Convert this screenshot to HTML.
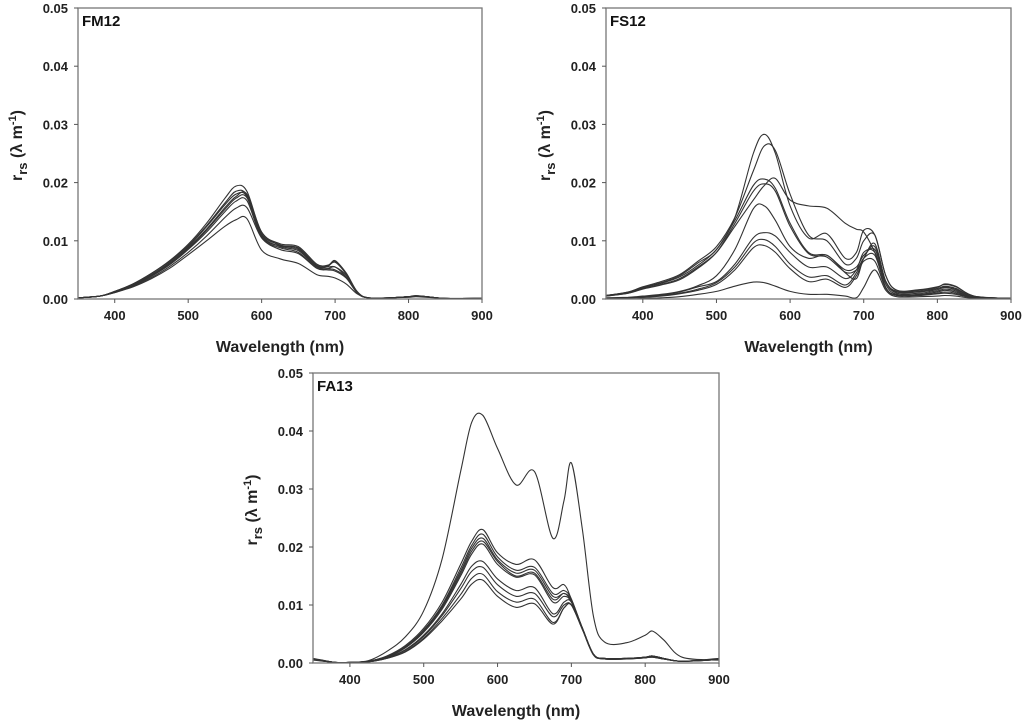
<!DOCTYPE html>
<html><head><meta charset="utf-8"><style>
body{margin:0;background:#fff}
svg{display:block;font-family:"Liberation Sans",Arial,sans-serif}
.tk{font-size:13px;font-weight:bold;fill:#222}
.ttl{font-size:16px;font-weight:bold;fill:#222}
.pl{font-size:15px;font-weight:bold;fill:#111}
</style></head><body>
<svg id="chart" width="1024" height="723" viewBox="0 0 1024 723"></svg>
<script>
const wavelengths=[350,380,400,425,450,475,500,525,550,565,580,600,625,650,675,690,700,715,730,745,775,800,810,825,850,900];
const xTicks=[400,500,600,700,800,900];
const yTicks=[0,0.01,0.02,0.03,0.04,0.05];
const yTickLabels=["0.00","0.01","0.02","0.03","0.04","0.05"];
// values in units of 0.001
const fm12=[
[0.2,0.5,1.3,2.6,4.4,6.6,9.4,13,17.3,19.4,18.5,11.5,9.5,9,6,5.8,6.5,4.5,1.3,0.2,0.2,0.4,0.6,0.4,0.1,0.1],
[0.2,0.5,1.3,2.6,4.4,6.5,9.2,12.6,16.5,18.5,17.8,11.2,9.3,8.7,5.8,5.7,6.3,4.3,1.2,0.2,0.2,0.4,0.5,0.4,0.1,0.1],
[0.2,0.5,1.2,2.4,4.1,6.1,8.8,12,15.7,17.6,18,11.5,9.2,8.5,5.6,5.5,5.5,4.1,1.2,0.2,0.2,0.4,0.5,0.4,0.1,0.1],
[0.2,0.5,1.2,2.4,4,6,8.6,11.8,15.4,17.3,17.4,11,9,8.3,5.5,5.2,5,3.8,1.1,0.2,0.2,0.4,0.5,0.4,0.1,0.1],
[0.2,0.5,1.2,2.3,3.9,5.9,8.5,11.5,15,16.8,16.9,10.6,8.8,8,5.3,5,4.8,3.6,1.1,0.2,0.2,0.4,0.5,0.4,0.1,0.1],
[0.2,0.5,1.1,2.2,3.7,5.6,8,10.8,14,15.6,15.7,10.5,8.5,7.8,5.3,5.2,5.5,3.8,1.1,0.2,0.2,0.4,0.5,0.4,0.1,0.1],
[0.2,0.5,1.1,2.1,3.5,5.3,7.6,10,12.5,13.6,13.8,8.4,6.9,6.1,4.2,3.9,3.6,2.6,0.9,0.2,0.2,0.3,0.4,0.3,0.1,0.1],
[0.2,0.5,1.3,2.5,4.2,6.3,9,12.4,16.2,18,17.6,10.8,9.1,8.8,5.7,5.6,6.6,4.4,1.2,0.2,0.2,0.4,0.5,0.4,0.1,0.1]
];
const fs12=[
[0.6,1.2,2,2.8,4,6.2,8.5,14,25,28.3,25,16,10.5,11.2,7,8,11.8,11,4,1.5,1.5,2,2.6,2.2,0.5,0.1],
[0.6,1.2,2.1,3,4.2,6.5,9,14,22,26.3,25.5,18,11,10,6,7,10,11,4,1.5,1.6,2.1,2.5,2.1,0.5,0.1],
[0.6,1.1,1.9,2.7,3.8,5.8,8.5,13.5,19.5,20.6,19,13,8,7.5,5,5.5,7.5,8.5,3,1.3,1.3,1.8,2.2,1.8,0.4,0.1],
[0.5,1,1.8,2.5,3.5,5.5,8,12.5,17,19.5,20.7,17,16,15.6,13,12,11.5,8,3,1.2,1.3,1.8,2.1,1.8,0.4,0.1],
[0.5,1,1.7,2.4,3.3,5.3,8,13,18.5,19.8,18.5,12.5,7.8,7.2,4.6,5,7,9.5,3,1.2,1.2,1.6,2,1.6,0.4,0.1],
[0.2,0.3,0.5,0.8,1.3,2.3,4,8.5,15.5,16,13.5,9,7,7.5,4.5,3.5,7,9,3,1,1,1.4,1.7,1.4,0.3,0.1],
[0.1,0.2,0.4,0.7,1.2,2.1,3,6,10.5,11.4,10.8,8,5.5,5.5,3.5,5,8,8,2.5,0.8,0.8,1.2,1.5,1.2,0.3,0.1],
[0.1,0.2,0.3,0.6,1,1.7,2.8,5.5,9.6,10.2,9,6,3.8,4,2.4,4.5,7,7.5,2,0.7,0.7,1,1.2,1,0.2,0.1],
[0.1,0.2,0.3,0.5,0.9,1.5,2.5,5,8.8,9.2,8,5.2,3,3.4,2,4,6.5,6.5,1.8,0.6,0.6,0.9,1,0.8,0.2,0.1],
[0,0,0.1,0.2,0.4,0.8,1.3,2.2,2.9,2.8,2.2,1.3,0.8,0.8,0.5,0.2,2,5,1.5,0.4,0.4,0.5,0.6,0.5,0.1,0]
];
const fa13=[
[0.5,0.1,0.1,0.4,2,4.5,9,18,33,41.5,42.7,37,30.7,33,21.5,28,34.5,23,8,3.6,3.5,4.8,5.5,4,1,0.5],
[0.8,0.1,0.1,0.3,1.2,3,6,10.5,17,21,23,19,17,17.8,13,13.5,11,6,1.5,0.8,0.8,1,1.2,0.8,0.3,0.8],
[0.7,0.1,0.1,0.3,1.1,2.8,5.7,10,16.3,20.3,22.2,18.3,16,16.5,12,12.5,11,6,1.5,0.8,0.8,1,1.2,0.8,0.3,0.7],
[0.7,0.1,0.1,0.3,1.1,2.8,5.6,9.8,15.8,19.8,21.5,17.8,15.5,16,11.5,12,10.8,6,1.5,0.8,0.8,1,1.2,0.8,0.3,0.7],
[0.7,0.1,0.1,0.3,1.1,2.7,5.5,9.6,15.4,19.3,21,17.5,15,15.5,11,12,10.5,6,1.5,0.8,0.8,1,1.2,0.8,0.3,0.7],
[0.7,0.1,0.1,0.3,1,2.6,5.3,9.3,15,18.8,20.5,17,14.8,15.2,10.5,11.5,10.5,6,1.5,0.8,0.8,1,1.2,0.8,0.3,0.7],
[0.6,0.1,0.1,0.2,0.9,2.3,4.8,8.5,13.5,16.7,17.5,14.5,12.5,13,8.5,10.5,10.5,6,1.5,0.7,0.7,0.9,1.1,0.7,0.3,0.6],
[0.6,0.1,0.1,0.2,0.9,2.2,4.6,8.2,12.8,15.8,16.5,13.5,11.5,12,8,10,10,5.8,1.5,0.7,0.7,0.9,1.1,0.7,0.3,0.6],
[0.6,0.1,0.1,0.2,0.8,2,4.3,7.7,11.8,14.6,15.3,12.3,10.5,11,7,9.5,10,5.8,1.4,0.7,0.7,0.9,1,0.7,0.3,0.6],
[0.6,0.1,0.1,0.2,0.8,1.9,4.1,7.3,11,13.6,14.3,11.5,9.6,10.2,6.7,9.5,10,5.8,1.4,0.7,0.7,0.9,1,0.7,0.3,0.6]
];
const NS="http://www.w3.org/2000/svg";
const svg=document.getElementById('chart');
function mk(tag,attrs,parent){const e=document.createElementNS(NS,tag);for(const k in attrs)e.setAttribute(k,attrs[k]);(parent||svg).appendChild(e);return e;}
function smooth(pts){let d="M"+pts[0][0].toFixed(1)+","+pts[0][1].toFixed(1);
for(let i=0;i<pts.length-1;i++){const p0=pts[Math.max(0,i-1)],p1=pts[i],p2=pts[i+1],p3=pts[Math.min(pts.length-1,i+2)];
const c1=[p1[0]+(p2[0]-p0[0])/6,p1[1]+(p2[1]-p0[1])/6],c2=[p2[0]-(p3[0]-p1[0])/6,p2[1]-(p3[1]-p1[1])/6];
d+="C"+c1[0].toFixed(1)+","+c1[1].toFixed(1)+" "+c2[0].toFixed(1)+","+c2[1].toFixed(1)+" "+p2[0].toFixed(1)+","+p2[1].toFixed(1);}return d;}
function panel(name,label,L,R,T,B,series){
const g=mk('g',{});


const xs=w=>L+(w-350)/550*(R-L);
const ys=v=>B-v/0.05*(B-T);
const clipId='clip-'+name;
const cp=mk('clipPath',{id:clipId},g);mk('rect',{x:L,y:T,width:R-L,height:B-T},cp);
const lines=mk('g',{'clip-path':'url(#'+clipId+')'},g);
series.forEach((s,i)=>{const p=mk('path',{d:smooth(wavelengths.map((w,j)=>[xs(w),ys(s[j]/1000)])),fill:'none',stroke:'#333','stroke-width':'1.1'},lines);

});
const fr=mk('rect',{x:L,y:T,width:R-L,height:B-T,fill:'none',stroke:'#777','stroke-width':'1.3'},g);


xTicks.forEach(t=>{mk('line',{x1:xs(t),x2:xs(t),y1:B,y2:B+4,stroke:'#555'},g);
const tx=mk('text',{x:xs(t),y:B+21,'text-anchor':'middle',class:'tk'},g);tx.textContent=t;

});
yTicks.forEach((t,i)=>{mk('line',{x1:L-4,x2:L,y1:ys(t),y2:ys(t),stroke:'#555'},g);
const tx=mk('text',{x:L-10,y:ys(t)+5,'text-anchor':'end',class:'tk'},g);tx.textContent=yTickLabels[i];

});
const xt=mk('text',{x:(L+R)/2,y:B+53,'text-anchor':'middle',class:'ttl'},g);xt.textContent='Wavelength (nm)';


const cy=(T+B)/2-8;
const yt=mk('text',{transform:'translate('+(L-56)+','+cy+') rotate(-90)','text-anchor':'middle',class:'ttl'},g);
yt.innerHTML='r<tspan dy="5" font-size="13">rs</tspan><tspan dy="-5"> (λ m</tspan><tspan dy="-6" font-size="11">-1</tspan><tspan dy="6">)</tspan>';


const pl=mk('text',{x:L+4,y:T+18,class:'pl'},g);pl.textContent=label;


}
panel('fm12','FM12',78,482,8,299,fm12);
panel('fs12','FS12',606,1011,8,299,fs12);
panel('fa13','FA13',313,719,373,663,fa13);
</script>
</body></html>
